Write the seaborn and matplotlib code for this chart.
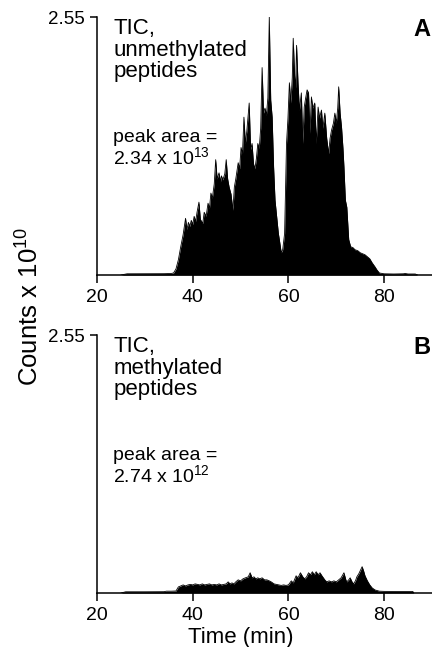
import numpy as np
import pandas as pd
import matplotlib
matplotlib.use("Agg")
import matplotlib.pyplot as plt
import seaborn as sns

# ---- data (time in min, counts x 1e10) ----
time_a = [25.0, 26.3, 30.0, 34.0, 35.5, 36.0, 36.5, 37.0, 37.5, 38.0, 38.5, 38.8, 39.1, 39.4, 39.7,
          40.0, 40.3, 40.6, 40.9, 41.3, 41.6, 42.1, 42.4, 42.8, 43.2, 43.5, 43.8, 44.1, 44.5,
          44.8, 45.1, 45.5, 45.8, 46.0, 46.3, 46.7, 47.0, 47.3, 47.6, 48.0, 48.4, 48.7, 49.0,
          49.5, 49.8, 50.1, 50.4, 50.7, 51.0, 51.3, 51.8, 52.1, 52.4, 52.7, 53.0, 53.3, 53.6,
          53.9, 54.2, 54.5, 54.8, 55.1, 55.4, 55.7, 56.0, 56.3, 56.6, 56.9, 57.2, 57.6, 57.9,
          58.1, 58.5, 58.8, 59.2, 59.4, 59.6, 59.9, 60.2, 60.5, 60.8, 61.0, 61.3, 61.5, 61.7,
          62.0, 62.3, 62.7, 63.0, 63.3, 63.6, 63.9, 64.2, 64.5, 64.8, 65.1, 65.5, 65.8, 66.2,
          66.5, 66.9, 67.2, 67.6, 68.0, 68.4, 68.7, 69.0, 69.4, 69.7, 70.0, 70.3, 70.5, 70.8,
          71.1, 71.4, 71.6, 71.9, 72.2, 72.6, 73.0, 73.5, 73.9, 74.5, 75.0, 75.5, 76.0, 76.5,
          77.0, 77.5, 78.1, 78.5, 79.0, 80.0, 82.0, 84.0, 84.4, 85.0, 86.5, 87.0]
counts_a = [0.0, 0.012, 0.012, 0.013, 0.015, 0.02, 0.06, 0.15, 0.28, 0.40, 0.56, 0.45, 0.52, 0.48, 0.54,
            0.50, 0.58, 0.53, 0.62, 0.72, 0.55, 0.51, 0.62, 0.58, 0.71, 0.66, 0.81, 0.76, 0.90,
            1.14, 0.95, 1.01, 0.92, 0.98, 0.94, 1.00, 1.14, 0.95, 0.87, 0.80, 0.64, 0.87, 0.95,
            1.11, 1.05, 1.26, 1.20, 1.56, 1.30, 1.42, 1.70, 1.24, 1.30, 1.10, 1.05, 1.15, 1.30,
            1.25, 1.45, 2.05, 1.60, 1.65, 1.58, 1.75, 2.55, 1.73, 1.56, 1.07, 0.74, 0.55, 0.41,
            0.35, 0.22, 0.25, 0.41, 0.85, 1.30, 1.55, 1.90, 1.70, 1.95, 2.34, 1.96, 1.85, 2.27,
            1.90, 1.63, 1.80, 1.30, 1.66, 1.75, 1.83, 1.80, 1.40, 1.76, 1.65, 1.70, 1.30, 1.66,
            1.55, 1.63, 1.45, 1.60, 1.35, 1.20, 1.35, 1.43, 1.50, 1.60, 1.50, 1.65, 1.86, 1.60,
            1.46, 1.25, 1.07, 0.74, 0.67, 0.35, 0.28, 0.27, 0.25, 0.24, 0.22, 0.21, 0.20, 0.18,
            0.16, 0.12, 0.08, 0.05, 0.02, 0.012, 0.01, 0.012, 0.015, 0.01, 0.01, 0.0]

time_b = [25.0, 26.0, 30.0, 34.0, 34.5, 35.5, 36.5, 37.0, 37.5, 38.0, 38.5, 39.0, 39.5, 40.0, 40.5,
          41.0, 41.5, 42.0, 42.5, 43.0, 43.5, 44.0, 44.5, 45.0, 45.5, 46.0, 46.5, 47.0, 47.4,
          47.8, 48.2, 48.6, 49.0, 49.5, 50.0, 50.5, 51.0, 51.6, 52.0, 52.4, 52.8, 53.2, 53.6,
          54.0, 54.5, 55.0, 55.5, 56.0, 56.4, 57.0, 57.5, 58.0, 58.5, 59.0, 59.5, 60.0, 60.6,
          61.0, 61.6, 62.0, 62.5, 63.0, 63.4, 63.8, 64.2, 64.6, 65.0, 65.4, 65.8, 66.2, 66.6,
          67.0, 67.6, 68.0, 68.5, 69.0, 69.5, 70.0, 70.5, 71.0, 71.6, 72.0, 72.2, 72.6, 72.9,
          73.3, 73.6, 74.0, 74.3, 74.7, 75.1, 75.4, 75.7, 76.0, 76.5, 77.0, 77.5, 78.1, 79.0,
          80.0, 83.0, 86.0, 86.2]
counts_b = [0.0, 0.012, 0.012, 0.013, 0.018, 0.018, 0.02, 0.06, 0.07, 0.08, 0.07, 0.08, 0.085, 0.08, 0.09,
            0.085, 0.08, 0.09, 0.08, 0.085, 0.09, 0.08, 0.085, 0.08, 0.09, 0.08, 0.085, 0.09, 0.11,
            0.09, 0.10, 0.09, 0.11, 0.13, 0.12, 0.14, 0.15, 0.16, 0.20, 0.15, 0.16, 0.14, 0.15,
            0.14, 0.15, 0.13, 0.13, 0.12, 0.11, 0.09, 0.085, 0.08, 0.075, 0.08, 0.075, 0.08, 0.12,
            0.10, 0.17, 0.15, 0.20, 0.16, 0.14, 0.16, 0.20, 0.18, 0.21, 0.18, 0.21, 0.18, 0.20,
            0.17, 0.13, 0.11, 0.12, 0.11, 0.12, 0.11, 0.13, 0.15, 0.20, 0.13, 0.11, 0.13, 0.15,
            0.11, 0.09, 0.12, 0.16, 0.19, 0.23, 0.26, 0.22, 0.17, 0.12, 0.08, 0.05, 0.03, 0.018,
            0.016, 0.015, 0.015, 0.0]

x_ticks = [20, 40, 60, 80]
y_max = 2.55
panel_letters = ["A", "B"]
panel_titles = ["TIC,\nunmethylated\npeptides", "TIC,\nmethylated\npeptides"]
peak_areas = ["2.34 x 10$^{13}$", "2.74 x 10$^{12}$"]

# ---- style ----
sns.set_theme(style="ticks")
plt.rcParams["font.family"] = ["Liberation Sans", "DejaVu Sans"]
plt.rcParams["mathtext.fontset"] = "custom"
plt.rcParams["mathtext.rm"] = "Liberation Sans"
plt.rcParams["mathtext.it"] = "Liberation Sans"
plt.rcParams["mathtext.bf"] = "Liberation Sans:bold"

fig = plt.figure(figsize=(4.32, 6.47), dpi=100)
W, H = 432, 647
positions = [(97, 17, 432, 275), (97, 335, 432, 593)]

datasets = [(time_a, counts_a), (time_b, counts_b)]
for i, ((t, c), (x0, y0, x1, y1)) in enumerate(zip(datasets, positions)):
    ax = fig.add_axes([x0 / W, 1 - y1 / H, (x1 - x0) / W, (y1 - y0) / H])
    df = pd.DataFrame({"time": t, "counts": c})
    ax.fill_between(df["time"], 0, df["counts"], color="black", linewidth=0)
    sns.lineplot(data=df, x="time", y="counts", ax=ax, color="black", linewidth=0.6,
                 estimator=None, sort=False)
    ax.set_xlim(20, 90)
    ax.set_ylim(0, y_max)
    ax.set_xticks(x_ticks)
    ax.set_xticklabels([str(v) for v in x_ticks])
    ax.set_yticks([y_max])
    ax.set_yticklabels(["2.55"])
    ax.set_xlabel("")
    ax.set_ylabel("")
    sns.despine(ax=ax)
    for s in ["left", "bottom"]:
        ax.spines[s].set_linewidth(1.1)
        ax.spines[s].set_color("black")
    ax.tick_params(axis="x", direction="out", length=6, width=1.1, labelsize=14,
                   colors="black", pad=4)
    ax.tick_params(axis="y", direction="out", length=5, width=1.1, labelsize=13.5,
                   colors="black", pad=4)
    ax.text(0.048, 0.995, panel_titles[i], transform=ax.transAxes, ha="left", va="top",
            fontsize=16, linespacing=1.02, color="black")
    ax.text(0.048, 0.565, "peak area =\n" + peak_areas[i], transform=ax.transAxes,
            ha="left", va="top", fontsize=14, linespacing=1.0, color="black")
    ax.text(0.97, 0.95, panel_letters[i], transform=ax.transAxes, ha="center",
            va="center", fontsize=17, fontweight="bold", color="black")
    if i == 1:
        ax.set_xlabel("Time (min)", fontsize=16, color="black")
        ax.xaxis.set_label_coords(0.43, -0.13)

fig.text(30 / W, 1 - 306 / H, "Counts x 10$^{10}$", rotation=90, ha="center",
         va="center", fontsize=18.5, color="black")

fig.savefig("out.png", dpi=100)
